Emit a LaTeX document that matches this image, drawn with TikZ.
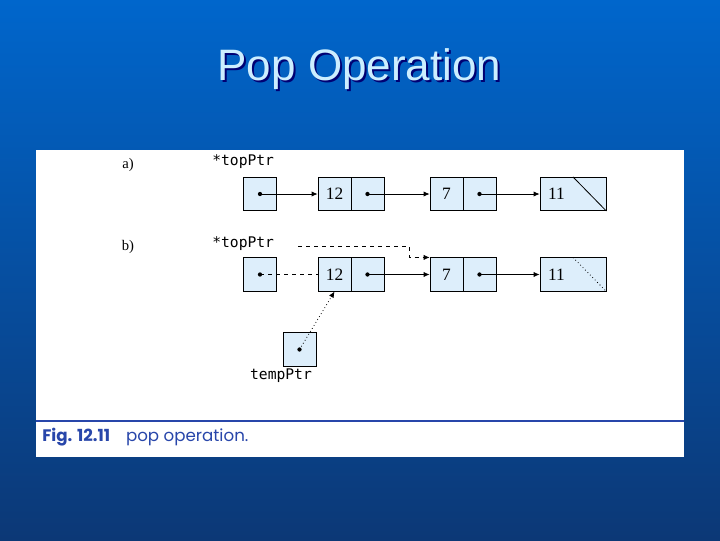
\documentclass[tikz,border=0pt]{standalone}
\usepackage{fontspec}
\usepackage{tikz}
\usetikzlibrary{arrows.meta}
\newfontfamily\titlefont{Liberation Sans}
\newfontfamily\codefont{DejaVu Sans Mono}
\newfontfamily\numfont{Liberation Serif}
\newfontfamily\capfont{Poppins}
\definecolor{bgtop}{RGB}{0,102,204}
\definecolor{bgbot}{RGB}{12,56,118}
\definecolor{cellblue}{RGB}{221,238,251}
\definecolor{titleblue}{RGB}{204,238,255}
\definecolor{capblue}{RGB}{40,70,170}
\tikzset{
  cell/.style={draw, fill=cellblue, line width=0.6pt, minimum width=24.75pt, minimum height=25pt, inner sep=0pt},
  nilcell/.style={cell, minimum width=49.5pt},
  link/.style={line width=0.6pt, -{Latex[length=4.5pt,width=4pt]}},
  code/.style={font=\codefont\fontsize{11}{13}\selectfont, inner sep=0.75pt},
  num/.style={font=\numfont\fontsize{13}{15}\selectfont, inner sep=0pt}
}
\newcommand{\ptrdot}[1]{\fill (#1) circle (1.6pt);}
\begin{document}
\begin{tikzpicture}[x=0.75pt,y=0.75pt,yscale=-1,xscale=1]
\useasboundingbox (0,0) rectangle (720,540);

%Background and panel
\shade[top color=bgtop, bottom color=bgbot] (0,0) rectangle (720,540);
\fill[white] (36,150) rectangle (684,457);
\draw[capblue, line width=0.8pt] (36,421) -- (684,421);

% Title
\node[text=black!55!blue, font=\titlefont\fontsize{33}{38}\selectfont] (titleshadow) at (361.5,71) {Pop Operation};
\node[text=titleblue, font=\titlefont\fontsize{33}{38}\selectfont] (title) at (359.5,69) {Pop Operation};

% Row a)
\node[font=\numfont\fontsize{11}{13}\selectfont] (parta) at (128,165) {a)};
\node[code, anchor=west] (toplbla) at (211,162) {*topPtr};
\node[cell] (topa) at (260,194) {};
\node[cell, num] (d12a) at (334.5,194) {12};
\node[cell] (p12a) at (367.5,194) {};
\node[cell, num] (d7a) at (446.5,194) {7};
\node[cell] (p7a) at (479.5,194) {};
\node[nilcell] (nila) at (573,194) {};
\node[num] (d11a) at (556.5,194) {11};
\draw[line width=0.6pt] (nila.north) -- (nila.south east);
\ptrdot{topa}
\ptrdot{p12a}
\ptrdot{p7a}
\draw[link] (topa.center) -- (d12a.west);
\draw[link] (p12a.center) -- (d7a.west);
\draw[link] (p7a.center) -- (nila.west);

% Row b)
\node[font=\numfont\fontsize{11}{13}\selectfont] (partb) at (128,247) {b)};
\node[code, anchor=west] (toplblb) at (211,244) {*topPtr};
\node[cell] (topb) at (260,274.5) {};
\node[cell, num] (d12b) at (334.5,274.5) {12};
\node[cell] (p12b) at (367.5,274.5) {};
\node[cell, num] (d7b) at (446.5,274.5) {7};
\node[cell] (p7b) at (479.5,274.5) {};
\node[nilcell] (nilb) at (573,274.5) {};
\node[num] (d11b) at (556.5,274.5) {11};
\draw[line width=0.6pt, dotted] (nilb.north) -- (nilb.south east);
\ptrdot{topb}
\ptrdot{p12b}
\ptrdot{p7b}
\coordinate (dashstart) at (298,246);
\coordinate (dashbend) at (409,246);
\draw[line width=0.6pt, dashed] (topb.center) -- (d12b.west);
\draw[link, dashed] (dashstart) -- (dashbend) |- (d7b.north west);
\draw[link] (p12b.center) -- (d7b.west);
\draw[link] (p7b.center) -- (nilb.west);

% tempPtr
\node[cell] (tmp) at (299.5,349.5) {};
\ptrdot{tmp}
\node[code] (tmplbl) at (281,376) {tempPtr};
\draw[link, dotted] (tmp.center) -- (d12b.south);

% Caption
\node[anchor=west, text=capblue, font=\capfont\fontsize{12.5}{15}\selectfont, inner sep=0pt] (caption) at (42,437) {\textbf{Fig. 12.11}\hspace{12pt}pop operation.};
\end{tikzpicture}
\end{document}
